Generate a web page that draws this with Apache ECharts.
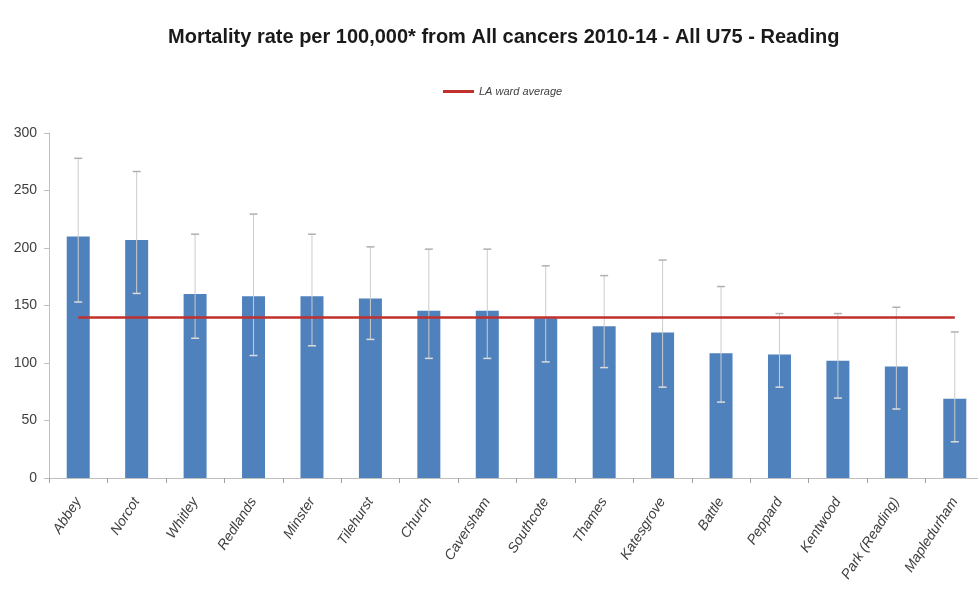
<!DOCTYPE html>
<html>
<head>
<meta charset="utf-8">
<script src="https://cdn.jsdelivr.net/npm/echarts@6/dist/echarts.min.js"></script>
<style>html,body{margin:0;padding:0;background:#fff;overflow:hidden}#c{width:984px;height:598px}</style>
</head>
<body>
<div id="c"></div>
<script>
var categories = ['Abbey','Norcot','Whitley','Redlands','Minster','Tilehurst','Church','Caversham','Southcote','Thames','Katesgrove','Battle','Peppard','Kentwood','Park (Reading)','Mapledurham'];
var rates = [210, 207, 160, 158, 158, 156, 145.5, 145.5, 139, 132, 126.5, 108.5, 107.5, 102, 97, 69];
var lowerCI = [153, 160.5, 121.5, 106.5, 115, 120.5, 104, 104, 101, 96, 79, 66, 79, 69.5, 60, 31.5];
var upperCI = [278, 266.5, 212, 229.5, 212, 201, 199, 199, 184.5, 176, 189.5, 166.5, 143, 143, 148.5, 127];
var laAverage = 139.5;
var yTicks = [0, 50, 100, 150, 200, 250, 300];

var avgLine = categories.map(function(){ return laAverage; });
var errData = categories.map(function(c, i){ return [i, lowerCI[i], upperCI[i]]; });

var chart = echarts.init(document.getElementById('c'));
chart.setOption({
  animation: false,
  title: {
    text: 'Mortality rate per 100,000* from All cancers 2010-14 - All U75 - Reading',
    left: 163, top: 22,
    textStyle: { fontFamily: 'Liberation Sans, sans-serif', fontWeight: 'bold', fontSize: 20, color: '#1a1a1a' }
  },
  legend: {
    data: [{ name: 'LA ward average', icon: 'rect' }],
    top: 81, left: 438,
    itemWidth: 31, itemHeight: 3, itemGap: 3,
    textStyle: { fontFamily: 'Liberation Sans, sans-serif', fontStyle: 'italic', fontSize: 11, color: '#404040' }
  },
  grid: { left: 49, right: 0, top: 133, bottom: 120, containLabel: false },
  xAxis: {
    type: 'category', data: categories,
    axisLine: { lineStyle: { color: '#bfbfbf' } },
    axisTick: { show: true, length: 5, lineStyle: { color: '#a0a0a0' } },
    axisLabel: { rotate: 57, interval: 0, margin: 21, fontFamily: 'Liberation Sans, sans-serif', fontStyle: 'italic', fontSize: 14, color: '#404040' }
  },
  yAxis: {
    type: 'value', min: 0, max: 300, interval: 50,
    axisLine: { show: true, lineStyle: { color: '#bfbfbf' } },
    axisTick: { show: true, length: 5, lineStyle: { color: '#bfbfbf' } },
    splitLine: { show: false },
    axisLabel: { margin: 12, fontFamily: 'Liberation Sans, sans-serif', fontSize: 14, color: '#404040',
      formatter: function(v){ return yTicks.indexOf(v) >= 0 ? String(v) : ''; } }
  },
  series: [
    {
      type: 'bar', name: 'Rate', data: rates, barWidth: 23,
      itemStyle: { color: '#4f81bd' }, z: 2
    },
    {
      type: 'custom', name: 'CI', data: errData, z: 3,
      renderItem: function(params, api){
        var x = api.value(0);
        var lo = api.coord([x, api.value(1)]);
        var hi = api.coord([x, api.value(2)]);
        var cap = 4;
        var st = { stroke: '#cccccc', lineWidth: 1 };
        return { type: 'group', children: [
          { type: 'line', shape: { x1: hi[0], y1: hi[1], x2: lo[0], y2: lo[1] }, style: st },
          { type: 'line', shape: { x1: hi[0]-cap, y1: hi[1], x2: hi[0]+cap, y2: hi[1] }, style: { stroke: '#b0b0b0', lineWidth: 1.5 } },
          { type: 'line', shape: { x1: lo[0]-cap, y1: lo[1], x2: lo[0]+cap, y2: lo[1] }, style: { stroke: '#dcdcdc', lineWidth: 1.5 } }
        ]};
      }
    },
    {
      type: 'line', name: 'LA ward average', data: avgLine, z: 4,
      symbol: 'none', lineStyle: { color: '#c0302c', width: 2.5 },
      itemStyle: { color: '#c0302c' }
    }
  ]
});
</script>
</body>
</html>
